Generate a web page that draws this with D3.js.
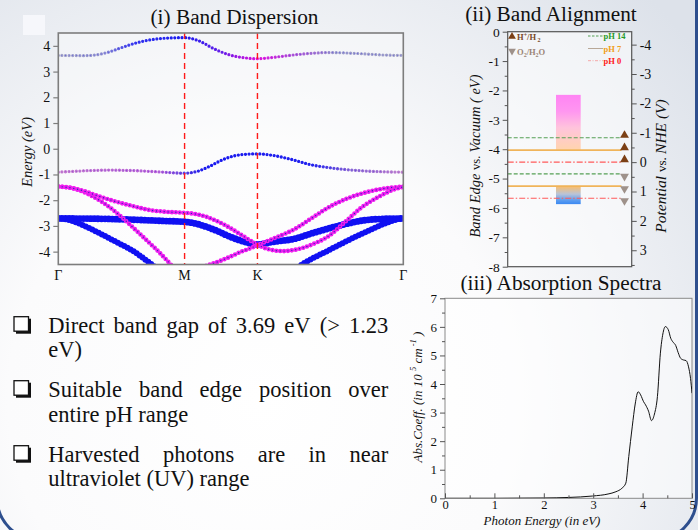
<!DOCTYPE html>
<html><head><meta charset="utf-8">
<script src="https://cdn.jsdelivr.net/npm/d3@7"></script>
<style>html,body{margin:0;padding:0;background:#fff;} svg{display:block;font-family:'Liberation Serif','Times New Roman',serif;}</style>
</head><body><svg id="c" width="698" height="530"></svg>
<script>
// ---------------- DATA ----------------
// (i) Band dispersion : k-path nodes and labels
const kNodes = [0, 1, 1.577, 2.732];
const kLabels = ["Γ", "M", "K", "Γ"];
const energyTicks = [-4, -3, -2, -1, 0, 1, 2, 3, 4];
// bands as [k, E(eV)]
const bandCB = [[0,3.63],[0.2,3.62],[0.3,3.65],[0.4,3.76],[0.5,3.93],[0.6,4.09],[0.7,4.21],[0.8,4.28],[0.9,4.31],[1.0,4.32],[1.11,4.2],[1.24,3.87],[1.37,3.63],[1.47,3.54],[1.577,3.50],[1.7,3.55],[1.85,3.64],[2.0,3.71],[2.15,3.74],[2.3,3.72],[2.45,3.68],[2.6,3.64],[2.732,3.63]];
const bandVB = [[0,-0.91],[0.2,-0.86],[0.4,-0.83],[0.6,-0.85],[0.8,-0.9],[1.0,-0.95],[1.1,-0.88],[1.2,-0.68],[1.3,-0.43],[1.4,-0.27],[1.5,-0.21],[1.577,-0.2],[1.7,-0.26],[1.85,-0.42],[2.0,-0.62],[2.15,-0.74],[2.3,-0.82],[2.45,-0.87],[2.6,-0.9],[2.732,-0.91]];
const bandMagA = [[0,-1.47],[0.1,-1.52],[0.2,-1.64],[0.33,-1.86],[0.46,-2.06],[0.6,-2.24],[0.72,-2.38],[0.85,-2.45],[1.0,-2.49],[1.08,-2.53],[1.17,-2.64],[1.26,-2.82],[1.35,-3.05],[1.45,-3.35],[1.52,-3.57],[1.577,-3.73],[1.66,-3.9],[1.78,-3.98],[1.9,-3.9],[2.02,-3.7],[2.14,-3.4],[2.27,-2.85],[2.41,-2.25],[2.5,-1.97],[2.59,-1.73],[2.66,-1.58],[2.732,-1.48]];
const bandMagB = [[0,-1.47],[0.1,-1.52],[0.2,-1.68],[0.3,-1.93],[0.4,-2.25],[0.5,-2.65],[0.6,-3.1],[0.7,-3.56],[0.8,-4.03],[0.9,-4.55]];
const bandMagF = [[1.17,-4.55],[1.26,-4.4],[1.35,-4.22],[1.45,-4.0],[1.52,-3.87],[1.577,-3.75],[1.7,-3.5],[1.88,-3.1],[2.0,-2.72],[2.15,-2.25],[2.28,-1.95],[2.41,-1.73],[2.55,-1.57],[2.732,-1.47]];
const bandBlueC = [[0,-2.71],[0.3,-2.72],[0.6,-2.76],[0.85,-2.81],[1.0,-2.84],[1.08,-2.9],[1.17,-3.03],[1.26,-3.2],[1.35,-3.4],[1.45,-3.58],[1.577,-3.72],[1.7,-3.62],[1.88,-3.49],[2.0,-3.3],[2.14,-3.1],[2.28,-2.92],[2.41,-2.79],[2.55,-2.73],[2.732,-2.71]];
const bandBlueD = [[0,-2.71],[0.06,-2.74],[0.15,-2.88],[0.3,-3.22],[0.45,-3.6],[0.6,-4.0],[0.74,-4.5],[0.78,-4.65]];
const bandBlueE = [[1.9,-4.6],[1.94,-4.47],[2.14,-3.95],[2.41,-3.29],[2.59,-2.9],[2.68,-2.75],[2.732,-2.71]];

// (ii) Band alignment (eV vs vacuum)
const vacTicks = [0, -1, -2, -3, -4, -5, -6, -7, -8];
const nheTicks = [-4, -3, -2, -1, 0, 1, 2, 3];
const nheOffset = 4.44;
const cbBox = [-2.15, -4.02];   // top, bottom
const vbBox = [-5.25, -5.87];
const redoxPH = ["pH 14", "pH 7", "pH 0"];
const hLevels = [-3.61, -4.03, -4.44];   // H+/H2 at pH 14, 7, 0
const oLevels = [-4.84, -5.26, -5.67];   // O2/H2O at pH 14, 7, 0

// (iii) Absorption spectrum
const absE = [0, 1.0, 2.0, 2.5, 2.99, 3.3, 3.46, 3.58, 3.66, 3.72, 3.79, 3.85, 3.91, 3.96, 4.02, 4.06, 4.12, 4.18, 4.24, 4.30, 4.36, 4.41, 4.46, 4.52, 4.57, 4.61, 4.67, 4.72, 4.77, 4.83, 4.88, 4.93, 4.97, 5.0];
const absA = [0, 0.0, 0.01, 0.03, 0.08, 0.15, 0.23, 0.35, 0.53, 1.46, 2.5, 3.3, 3.73, 3.62, 3.38, 3.27, 3.05, 2.72, 2.95, 3.56, 5.08, 5.75, 6.01, 5.9, 5.6, 5.48, 5.35, 5.1, 4.9, 4.84, 4.82, 4.6, 4.2, 3.68];
const absXTicks = [0, 1, 2, 3, 4, 5];
const absYTicks = [0, 1, 2, 3, 4, 5, 6, 7];

const bullets = [
  {lines: ["Direct band gap of 3.69 eV (> 1.23", "eV)"]},
  {lines: ["Suitable band edge position over", "entire pH range"]},
  {lines: ["Harvested photons are in near", "ultraviolet (UV) range"]}
];

// ---------------- DRAW ----------------
const svg = d3.select("#c");
const defs = svg.append("defs");
const serif = "'Liberation Serif','Times New Roman',serif";

// background
const bg = defs.append("radialGradient").attr("id","bg").attr("gradientUnits","userSpaceOnUse")
  .attr("cx",260).attr("cy",400).attr("r",560);
bg.append("stop").attr("offset","0").attr("stop-color","#ffffff");
bg.append("stop").attr("offset","0.45").attr("stop-color","#fbfbfc");
bg.append("stop").attr("offset","1").attr("stop-color","#dde2ea");
svg.append("rect").attr("width",698).attr("height",530).attr("fill","url(#bg)");
svg.append("rect").attr("x",23).attr("y",15).attr("width",22).attr("height",20).attr("fill","#f6f7fb");
// slide rounded border
svg.append("rect").attr("x",-3).attr("y",-60).attr("width",699.5).attr("height",600).attr("rx",42)
  .attr("fill","none").attr("stroke","#2e4f8e").attr("stroke-width",3);

// ===== Panel (i) =====
const x1 = d3.scaleLinear().domain([0, 2.732]).range([58.3, 403.3]);
const y1 = d3.scaleLinear().domain([-4.5, 4.5]).range([264.5, 33]);
const p1 = svg.append("g");
p1.append("rect").attr("x",x1(0)).attr("y",y1(4.5)).attr("width",x1(2.732)-x1(0)).attr("height",y1(-4.5)-y1(4.5))
  .attr("fill","#ffffff").attr("fill-opacity",0.35);
defs.append("clipPath").attr("id","clip1").append("rect")
  .attr("x",x1(0)).attr("y",y1(4.5)).attr("width",x1(2.732)-x1(0)).attr("height",y1(-4.5)-y1(4.5));

const line1 = d3.line().x(d=>x1(d[0])).y(d=>y1(d[1])).curve(d3.curveMonotoneX);
const bands = p1.append("g").attr("clip-path","url(#clip1)");
// colour along k
function kColor(stops){
  return d3.scaleLinear().domain(stops.map(s=>s[0])).range(stops.map(s=>s[1])).interpolate(d3.interpolateRgb).clamp(true);
}
// fat-band markers placed along the band curve
function dots(data, st){
  const guide = bands.append("path").attr("d", line1(data)).attr("fill","none").attr("stroke","none");
  const node = guide.node(), L = node.getTotalLength();
  const pts = d3.range(0, L + 0.01, st.gap).map(s=>node.getPointAtLength(s));
  const fillC = typeof st.fill === "function" ? st.fill : ()=>st.fill;
  const ringC = typeof st.ring === "function" ? st.ring : ()=>st.ring;
  bands.append("g").selectAll("circle").data(pts).join("circle")
    .attr("cx",p=>p.x).attr("cy",p=>p.y).attr("r",st.r)
    .attr("fill",p=>fillC(x1.invert(p.x)))
    .attr("stroke",p=> st.ring ? ringC(x1.invert(p.x)) : "none")
    .attr("stroke-width",st.rw || 0);
}
const blue = "#1010f2", mag = "#f01cf0", magCore = "#2a2ab8";
dots(bandBlueC, {r:3.4, gap:3.6, fill:blue});
dots(bandBlueD, {r:3.0, gap:3.6, fill:blue});
dots(bandBlueE, {r:3.0, gap:3.6, fill:blue});
[bandMagB, bandMagF, bandMagA].forEach(b=>dots(b, {r:1.5, gap:3.9, fill:magCore, ring:mag, rw:1.6}));
const cbRing = kColor([[0,"#a6a6c8"],[0.35,"#9494d0"],[0.6,"#3434f0"],[1.0,"#1818f0"],[1.3,"#7020e8"],[1.577,"#e010e0"],[1.85,"#b050d8"],[2.2,"#9a9acb"],[2.732,"#a6a6c8"]]);
const cbCore = kColor([[0,"#3030e0"],[1.3,"#2020f0"],[1.577,"#c010d0"],[1.9,"#4030e0"],[2.732,"#3030e0"]]);
dots(bandCB, {r:1.0, gap:3.6, fill:cbCore, ring:cbRing, rw:1.2});
const vbRing = kColor([[0,"#c47ad0"],[0.8,"#b860d8"],[1.0,"#6040e0"],[1.15,"#1a1af0"],[2.0,"#2020f0"],[2.3,"#8a66d6"],[2.732,"#c484d0"]]);
const vbCore = kColor([[0,"#6030c0"],[1.1,"#1818e0"],[2.2,"#2020e0"],[2.732,"#5030c0"]]);
dots(bandVB, {r:1.0, gap:3.6, fill:vbCore, ring:vbRing, rw:1.3});

// high-symmetry dashed lines
p1.selectAll("line.hs").data(kNodes.slice(1,3)).join("line")
  .attr("x1",d=>x1(d)).attr("x2",d=>x1(d)).attr("y1",y1(4.5)).attr("y2",y1(-4.5))
  .attr("stroke","#ff1a1a").attr("stroke-width",1.4).attr("stroke-dasharray","6,4");
p1.append("rect").attr("x",x1(0)).attr("y",y1(4.5)).attr("width",x1(2.732)-x1(0)).attr("height",y1(-4.5)-y1(4.5))
  .attr("fill","none").attr("stroke","#7d7d7d").attr("stroke-width",1.6);
const ax1 = p1.append("g").attr("transform",`translate(${x1(0)},0)`)
  .call(d3.axisLeft(y1).tickValues(energyTicks).tickSize(5).tickPadding(3).tickFormat(d=>String(d)));
ax1.select(".domain").remove();
ax1.selectAll("line").attr("stroke","#7d7d7d").attr("stroke-width",1.2);
ax1.selectAll("text").attr("font-family",serif).attr("font-size",14).attr("fill","#111");
p1.selectAll("text.kl").data(kNodes).join("text").attr("class","kl")
  .attr("x",d=>x1(d)).attr("y",280).attr("text-anchor","middle")
  .attr("font-size",14).attr("fill","#111").text((d,i)=>kLabels[i]);
p1.append("text").attr("transform","translate(32,152) rotate(-90)").attr("text-anchor","middle")
  .attr("font-size",14.5).attr("font-style","italic").attr("fill","#111").text("Energy (eV)");
p1.append("text").attr("x",234.5).attr("y",24).attr("text-anchor","middle").attr("font-size",21.3)
  .attr("fill","#111").text("(i) Band Dispersion");

// ===== Panel (ii) =====
const y2 = d3.scaleLinear().domain([-8, 0]).range([266.7, 31.7]);
const y2r = d3.scaleLinear().domain([-nheOffset, 8 - nheOffset]).range([31.7, 266.7]);
const x2a = 507.7, x2b = 631.7;
const p2 = svg.append("g");
p2.append("rect").attr("x",x2a).attr("y",y2(0)).attr("width",x2b-x2a).attr("height",y2(-8)-y2(0))
  .attr("fill","#ffffff").attr("fill-opacity",0.5);
const gCB = defs.append("linearGradient").attr("id","gcb").attr("x1",0).attr("x2",0).attr("y1",0).attr("y2",1);
[["0","#ff84f4"],["0.3","#ff96f0"],["0.6","#ffc4dc"],["1","#ffd4ae"]].forEach(s=>gCB.append("stop").attr("offset",s[0]).attr("stop-color",s[1]));
const gVB = defs.append("linearGradient").attr("id","gvb").attr("x1",0).attr("x2",0).attr("y1",0).attr("y2",1);
[["0","#ffbe66"],["0.45","#b9c4d8"],["0.8","#5a9cf0"],["1","#3a88f2"]].forEach(s=>gVB.append("stop").attr("offset",s[0]).attr("stop-color",s[1]));
p2.append("rect").attr("x",556).attr("width",24.7).attr("y",y2(cbBox[0])).attr("height",y2(cbBox[1])-y2(cbBox[0])).attr("fill","url(#gcb)");
p2.append("rect").attr("x",556).attr("width",24.7).attr("y",y2(vbBox[0])).attr("height",y2(vbBox[1])-y2(vbBox[0])).attr("fill","url(#gvb)");
const lvlStyle = [
  {c:"#55a055", d:"4,2", w:1.2},
  {c:"#f0b45a", d:null, w:1.8},
  {c:"#ff5a5a", d:"6,2,1.5,2", w:1.2}
];
function levels(arr, up){
  arr.forEach((v,i)=>{
    const s = lvlStyle[i];
    const l = p2.append("line").attr("x1",x2a).attr("x2",621.5).attr("y1",y2(v)).attr("y2",y2(v))
      .attr("stroke",s.c).attr("stroke-width",s.w);
    if (s.d) l.attr("stroke-dasharray",s.d);
    p2.append("path").attr("d",d3.symbol(d3.symbolTriangle,34)())
      .attr("transform",`translate(624.5,${y2(v)+(up?-2.5:2.5)}) rotate(${up?0:180})`)
      .attr("fill", up ? "#7b3f14" : "#9e918a");
  });
}
levels(hLevels, true);
levels(oLevels, false);
p2.append("rect").attr("x",x2a).attr("y",y2(0)).attr("width",x2b-x2a).attr("height",y2(-8)-y2(0))
  .attr("fill","none").attr("stroke","#555").attr("stroke-width",1.2);
function styleAx(g, fs){
  g.select(".domain").remove();
  g.selectAll("line").attr("stroke","#555");
  g.selectAll("text").attr("font-family",serif).attr("font-size",fs).attr("fill","#111");
}
const halfL = d3.range(-7.5, 0, 1);
const axL = p2.append("g").attr("transform",`translate(${x2a},0)`)
  .call(d3.axisLeft(y2).tickValues(vacTicks).tickSize(5).tickPadding(3).tickFormat(d=>String(d)));
styleAx(axL, 13.5);
p2.append("g").attr("transform",`translate(${x2a},0)`).call(d3.axisLeft(y2).tickValues(halfL).tickSize(3).tickFormat(""))
  .call(g=>styleAx(g,13));
const axR = p2.append("g").attr("transform",`translate(${x2b},0)`)
  .call(d3.axisRight(y2r).tickValues(nheTicks).tickSize(5).tickPadding(3).tickFormat(d=>String(d)));
styleAx(axR, 14);
p2.append("g").attr("transform",`translate(${x2b},0)`).call(d3.axisRight(y2r).tickValues(d3.range(-3.5,3.6,1)).tickSize(3).tickFormat(""))
  .call(g=>styleAx(g,13));
p2.append("text").attr("transform","translate(480,156) rotate(-90)").attr("text-anchor","middle")
  .attr("font-size",14.5).attr("font-style","italic").attr("fill","#111")
  .call(t=>{t.append("tspan").text("Band Edge ");t.append("tspan").attr("font-style","normal").attr("font-size",12.5).text("vs. ");t.append("tspan").text("Vacuum ( eV)");});
p2.append("text").attr("transform","translate(666,166) rotate(-90)").attr("text-anchor","middle")
  .attr("font-size",15.5).attr("font-style","italic").attr("fill","#111")
  .call(t=>{t.append("tspan").text("Potential ");t.append("tspan").attr("font-style","normal").attr("font-size",13).text("vs. ");t.append("tspan").text("NHE (V)");});
p2.append("text").attr("x",551).attr("y",21).attr("text-anchor","middle").attr("font-size",21.3)
  .attr("fill","#111").text("(ii) Band Alignment");
// legend (left)
p2.append("path").attr("d",d3.symbol(d3.symbolTriangle,26)()).attr("transform","translate(512,36.5)").attr("fill","#7b3f14");
p2.append("text").attr("x",517).attr("y",39.5).attr("font-size",8.5).attr("font-weight","bold").attr("fill","#7a4a2a")
  .call(t=>{t.append("tspan").text("H");t.append("tspan").attr("font-size",6).attr("dy",-3).text("+");
           t.append("tspan").attr("dy",3).text("/H");t.append("tspan").attr("font-size",6).attr("dy",2.5).attr("dx",1.5).text("2");});
p2.append("path").attr("d",d3.symbol(d3.symbolTriangle,26)()).attr("transform","translate(512,51) rotate(180)").attr("fill","#9e918a");
p2.append("text").attr("x",517).attr("y",54.5).attr("font-size",8.5).attr("font-weight","bold").attr("fill","#9a8476")
  .call(t=>{t.append("tspan").text("O");t.append("tspan").attr("font-size",6).attr("dy",2.5).text("2");
           t.append("tspan").attr("dy",-2.5).text("/H");t.append("tspan").attr("font-size",6).attr("dy",2.5).text("2");
           t.append("tspan").attr("dy",-2.5).text("O");});
// legend (right)
const legY = [36, 48.5, 60.7];
const legText = ["#2a9a2a", "#f0a020", "#ff2020"];
const legLine = [{c:"#55a055",d:"2.5,1.5"},{c:"#b8a898",d:null},{c:"#f4a8a8",d:"3,1.5,1,1.5"}];
redoxPH.forEach((p,i)=>{
  const l = p2.append("line").attr("x1",588).attr("x2",603).attr("y1",legY[i]).attr("y2",legY[i])
    .attr("stroke",legLine[i].c).attr("stroke-width",1);
  if (legLine[i].d) l.attr("stroke-dasharray",legLine[i].d);
  p2.append("text").attr("x",603.5).attr("y",legY[i]+3).attr("font-size",8.5).attr("font-weight","bold")
    .attr("fill",legText[i]).text(p);
});

// ===== Panel (iii) =====
const x3 = d3.scaleLinear().domain([0,5]).range([445,692]);
const y3 = d3.scaleLinear().domain([0,7]).range([498.3,298.3]);
const p3 = svg.append("g");
p3.append("rect").attr("x",x3(0)).attr("y",y3(7)).attr("width",x3(5)-x3(0)).attr("height",y3(0)-y3(7))
  .attr("fill","#ffffff").attr("fill-opacity",0.5).attr("stroke","#8a8a8a").attr("stroke-width",1);
defs.append("clipPath").attr("id","clip3").append("rect")
  .attr("x",x3(0)).attr("y",y3(7)-2).attr("width",x3(5)-x3(0)).attr("height",y3(0)-y3(7)+2);
const absPts = absE.map((e,i)=>[e, absA[i]]);
p3.append("path").attr("clip-path","url(#clip3)")
  .attr("d", d3.line().x(d=>x3(d[0])).y(d=>y3(d[1])).curve(d3.curveMonotoneX)(absPts))
  .attr("fill","none").attr("stroke","#111").attr("stroke-width",1);
const ay3 = p3.append("g").attr("transform",`translate(${x3(0)},0)`)
  .call(d3.axisLeft(y3).tickValues(absYTicks).tickSize(5).tickPadding(3).tickFormat(d=>String(d)));
styleAx(ay3, 13);
p3.append("g").attr("transform",`translate(${x3(0)},0)`).call(d3.axisLeft(y3).tickValues(d3.range(0.5,7,1)).tickSize(3).tickFormat(""))
  .call(g=>styleAx(g,12));
const ax3 = p3.append("g").attr("transform",`translate(0,${y3(0)})`)
  .call(d3.axisBottom(x3).tickValues(absXTicks).tickSizeInner(-5).tickSizeOuter(0).tickPadding(3).tickFormat(d=>String(d)));
styleAx(ax3, 12.5);
ax3.selectAll("text").attr("y",2).attr("dy","0.71em");
p3.append("g").attr("transform",`translate(0,${y3(0)})`).call(d3.axisBottom(x3).tickValues(d3.range(0.5,5,1)).tickSizeInner(-3).tickSizeOuter(0).tickFormat(""))
  .call(g=>styleAx(g,12));
p3.append("text").attr("x",542).attr("y",525).attr("text-anchor","middle").attr("font-size",13)
  .attr("font-style","italic").attr("fill","#111").text("Photon Energy (in eV)");
p3.append("text").attr("transform","translate(422,397) rotate(-90)").attr("text-anchor","middle")
  .attr("font-size",13).attr("font-style","italic").attr("fill","#111")
  .call(t=>{t.append("tspan").text("Abs.Coeff. (in 10 ");
           t.append("tspan").attr("font-size",8.5).attr("dy",-6).text("5");
           t.append("tspan").attr("dy",6).text(" cm");
           t.append("tspan").attr("font-size",8.5).attr("dy",-6).text(" -1");
           t.append("tspan").attr("dy",6).text(" )");});
p3.append("text").attr("x",561).attr("y",290).attr("text-anchor","middle").attr("font-size",21.3)
  .attr("fill","#111").text("(iii) Absorption Spectra");

// ===== Bullets =====
const bx = 48.3, bxR = 388.3, fs = 22.5;
const baseY = [[332.7, 357.3], [396.7, 421.7], [461.7, 485.5]];
const tg = svg.append("g").attr("font-size",fs).attr("fill","#111");
bullets.forEach((b,bi)=>{
  const by = baseY[bi][0];
  tg.append("rect").attr("x",16).attr("y",by-14).attr("width",15).attr("height",15).attr("fill","#111");
  tg.append("rect").attr("x",14).attr("y",by-16).attr("width",14.5).attr("height",14.5)
    .attr("fill","#fff").attr("stroke","#111").attr("stroke-width",1.3);
  b.lines.forEach((ln,li)=>{
    const y = baseY[bi][li];
    if (li === 0) {
      const words = ln.split(" ");
      const ws = words.map(w=>{
        const t = tg.append("text").attr("x",0).attr("y",-100).text(w);
        const len = t.node().getComputedTextLength(); t.remove(); return len;
      });
      const gap = (bxR - bx - d3.sum(ws)) / (words.length - 1);
      let cx = bx;
      words.forEach((w,i)=>{ tg.append("text").attr("x",cx).attr("y",y).text(w); cx += ws[i] + gap; });
    } else {
      tg.append("text").attr("x",bx).attr("y",y).text(ln);
    }
  });
});
</script></body></html>
